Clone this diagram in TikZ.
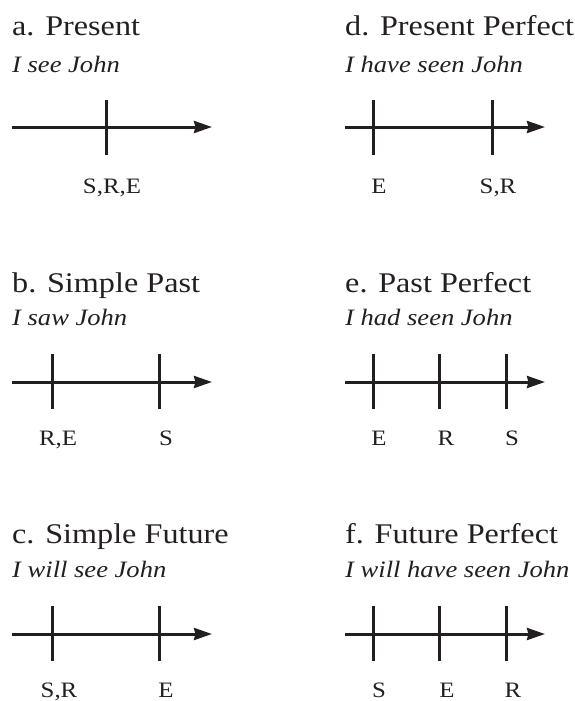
\documentclass[tikz,border=0pt]{standalone}
\usepackage{fontspec}
\setmainfont{Liberation Serif}[FakeStretch=1.13]
\usetikzlibrary{arrows.meta}
\definecolor{ink}{HTML}{231F20}
\begin{document}
\begin{tikzpicture}[x=1pt,y=-1pt,
 title/.style={anchor=base west, inner sep=0pt, font=\fontsize{28.5}{30}\selectfont, text=ink},
 sent/.style={anchor=base west, inner sep=0pt, font=\fontsize{23.5}{26}\selectfont\itshape, text=ink},
 lab/.style={anchor=base, inner sep=0pt, font=\fontsize{22}{24}\selectfont, text=ink},
 axis/.style={draw=ink, line width=3pt, -{Stealth[length=18pt,width=12pt,inset=1.5pt]}},
 tickline/.style={draw=ink, line width=3pt}]
\useasboundingbox (0,0) rectangle (574,701);

% ---------- a. Present ----------
\node[title] (ta) at (12,36) {a. Present};
\node[sent] (sa) at (12,72) {I see John};
\coordinate (a0) at (12,127); \coordinate (a1) at (212,127);
\draw[axis] (a0) -- (a1);
\coordinate (at1u) at (106,100); \coordinate (at1d) at (106,155);
\draw[tickline] (at1u) -- (at1d);
\node[lab] (la1) at (112,193) {S,R,E};

% ---------- b. Simple Past ----------
\node[title] (tb) at (12,292) {b. Simple Past};
\node[sent] (sb) at (12,325) {I saw John};
\coordinate (b0) at (12,382); \coordinate (b1) at (212,382);
\draw[axis] (b0) -- (b1);
\coordinate (bt1u) at (52,354); \coordinate (bt1d) at (52,409);
\coordinate (bt2u) at (159,354); \coordinate (bt2d) at (159,409);
\draw[tickline] (bt1u) -- (bt1d);
\draw[tickline] (bt2u) -- (bt2d);
\node[lab] (lb1) at (58,445) {R,E};
\node[lab] (lb2) at (166,445) {S};

% ---------- c. Simple Future ----------
\node[title] (tc) at (12,543) {c. Simple Future};
\node[sent] (sc) at (12,577) {I will see John};
\coordinate (c0) at (12,634); \coordinate (c1) at (212,634);
\draw[axis] (c0) -- (c1);
\coordinate (ct1u) at (52,606); \coordinate (ct1d) at (52,661);
\coordinate (ct2u) at (159,606); \coordinate (ct2d) at (159,661);
\draw[tickline] (ct1u) -- (ct1d);
\draw[tickline] (ct2u) -- (ct2d);
\node[lab] (lc1) at (59,697) {S,R};
\node[lab] (lc2) at (166,697) {E};

% ---------- d. Present Perfect ----------
\node[title] (td) at (345,36) {d. Present Perfect};
\node[sent] (sd) at (345,72) {I have seen John};
\coordinate (d0) at (345,127); \coordinate (d1) at (545,127);
\draw[axis] (d0) -- (d1);
\coordinate (dt1u) at (373,100); \coordinate (dt1d) at (373,155);
\coordinate (dt2u) at (492,100); \coordinate (dt2d) at (492,155);
\draw[tickline] (dt1u) -- (dt1d);
\draw[tickline] (dt2u) -- (dt2d);
\node[lab] (ld1) at (379,193) {E};
\node[lab] (ld2) at (498,193) {S,R};

% ---------- e. Past Perfect ----------
\node[title] (te) at (345,292) {e. Past Perfect};
\node[sent] (se) at (345,325) {I had seen John};
\coordinate (e0) at (345,382); \coordinate (e1) at (545,382);
\draw[axis] (e0) -- (e1);
\coordinate (et1u) at (373,354); \coordinate (et1d) at (373,409);
\coordinate (et2u) at (439,354); \coordinate (et2d) at (439,409);
\coordinate (et3u) at (506,354); \coordinate (et3d) at (506,409);
\draw[tickline] (et1u) -- (et1d);
\draw[tickline] (et2u) -- (et2d);
\draw[tickline] (et3u) -- (et3d);
\node[lab] (le1) at (379,445) {E};
\node[lab] (le2) at (446,445) {R};
\node[lab] (le3) at (512,445) {S};

% ---------- f. Future Perfect ----------
\node[title] (tf) at (345,543) {f. Future Perfect};
\node[sent] (sf) at (345,577) {I will have seen John};
\coordinate (f0) at (345,634); \coordinate (f1) at (545,634);
\draw[axis] (f0) -- (f1);
\coordinate (ft1u) at (373,606); \coordinate (ft1d) at (373,661);
\coordinate (ft2u) at (439,606); \coordinate (ft2d) at (439,661);
\coordinate (ft3u) at (506,606); \coordinate (ft3d) at (506,661);
\draw[tickline] (ft1u) -- (ft1d);
\draw[tickline] (ft2u) -- (ft2d);
\draw[tickline] (ft3u) -- (ft3d);
\node[lab] (lf1) at (379,697) {S};
\node[lab] (lf2) at (447,697) {E};
\node[lab] (lf3) at (513,697) {R};
\end{tikzpicture}
\end{document}
